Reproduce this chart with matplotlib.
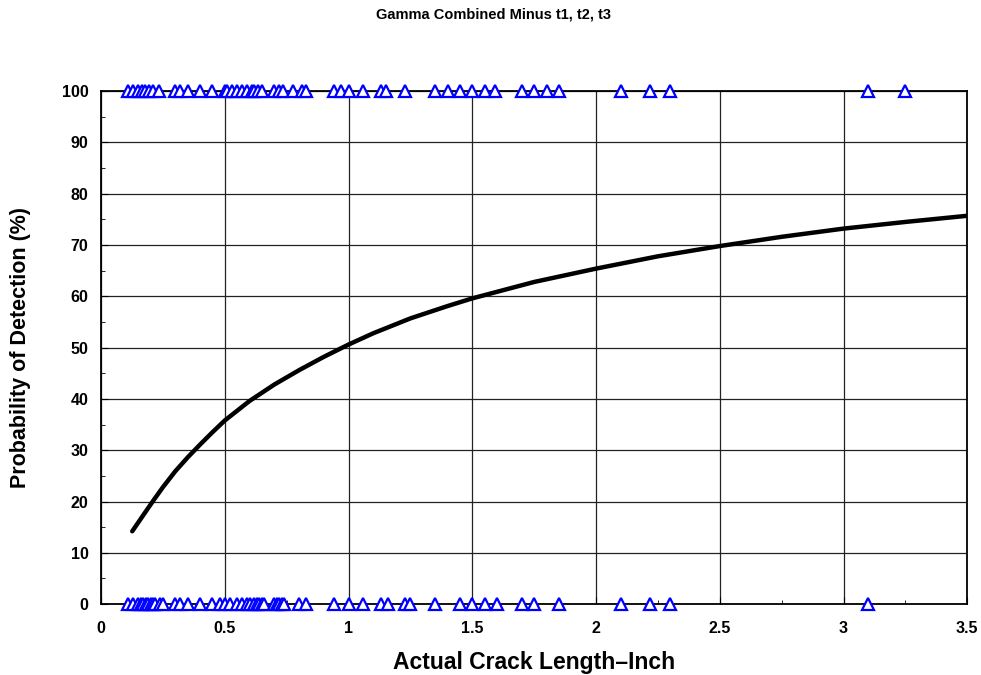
import matplotlib.pyplot as plt
from matplotlib.ticker import MultipleLocator

plt.rcParams['font.family'] = ['Liberation Sans', 'DejaVu Sans']
plt.rcParams['font.weight'] = 'bold'

# detected cracks (plotted at 100 %)
hit_lengths = [0.11, 0.13, 0.15, 0.165, 0.178, 0.195, 0.21, 0.235, 0.30, 0.32,
               0.35, 0.40, 0.45, 0.50, 0.51, 0.53, 0.55, 0.57, 0.59, 0.61,
               0.62, 0.635, 0.65, 0.70, 0.72, 0.735, 0.775, 0.81, 0.83,
               0.94, 0.97, 1.0, 1.06, 1.13, 1.15, 1.23, 1.35, 1.40, 1.45,
               1.50, 1.55, 1.59, 1.70, 1.75, 1.80, 1.85, 2.10, 2.22, 2.30,
               3.10, 3.25]
# missed cracks (plotted at 0 %)
miss_lengths = [0.11, 0.13, 0.15, 0.16, 0.17, 0.18, 0.19, 0.20, 0.21, 0.22,
                0.24, 0.25, 0.30, 0.32, 0.35, 0.40, 0.45, 0.48, 0.50, 0.52,
                0.55, 0.57, 0.59, 0.60, 0.62, 0.63, 0.64, 0.65, 0.66, 0.70,
                0.71, 0.72, 0.73, 0.74, 0.80, 0.83, 0.94, 1.0, 1.06, 1.13,
                1.16, 1.23, 1.25, 1.35, 1.45, 1.50, 1.55, 1.60, 1.70, 1.75,
                1.85, 2.10, 2.22, 2.30, 3.10]

# POD curve
curve_x = [0.126, 0.17, 0.21, 0.25, 0.3, 0.35, 0.4, 0.45, 0.5, 0.6, 0.7,
           0.8, 0.9, 1.0, 1.1, 1.25, 1.4, 1.5, 1.75, 2.0, 2.25, 2.5, 2.75,
           3.0, 3.25, 3.5]
curve_pod = [14.2, 17.3, 20.1, 22.8, 25.9, 28.6, 31.1, 33.5, 35.8, 39.6, 42.8,
             45.6, 48.2, 50.6, 52.8, 55.7, 58.1, 59.6, 62.8, 65.4, 67.8, 69.8,
             71.6, 73.2, 74.5, 75.7]

fig = plt.figure(figsize=(9.81, 6.75), dpi=100)
ax = fig.add_axes([0.103, 0.105, 0.883, 0.760])

ax.plot(curve_x, curve_pod, color='black', lw=3.2, solid_capstyle='round')
ax.plot(hit_lengths, [100] * len(hit_lengths), linestyle='none', marker='^',
        markersize=8.5, markerfacecolor='white', markeredgecolor='blue',
        markeredgewidth=1.6, clip_on=False, zorder=5)
ax.plot(miss_lengths, [0] * len(miss_lengths), linestyle='none', marker='^',
        markersize=8.5, markerfacecolor='white', markeredgecolor='blue',
        markeredgewidth=1.6, clip_on=False, zorder=5)

ax.set_xlim(0, 3.5)
ax.set_ylim(0, 100)
ax.set_xticks([0, 0.5, 1, 1.5, 2, 2.5, 3, 3.5])
ax.set_xticklabels(['0', '0.5', '1', '1.5', '2', '2.5', '3', '3.5'])
ax.xaxis.set_minor_locator(MultipleLocator(0.25))
ax.yaxis.set_major_locator(MultipleLocator(10))
ax.yaxis.set_minor_locator(MultipleLocator(5))
ax.tick_params(which='both', direction='in', labelsize=11.5)
ax.tick_params(which='major', length=5)
ax.tick_params(which='minor', length=3)
ax.tick_params(axis='x', pad=12)
ax.tick_params(axis='y', pad=9)
ax.grid(which='major', color='#222222', lw=0.9)
for s in ax.spines.values():
    s.set_linewidth(1.3)

ax.set_xlabel('Actual Crack Length\u2013Inch', fontsize=16.5, fontweight='bold', labelpad=11)
ax.set_ylabel('Probability of Detection (%)', fontsize=15.5, fontweight='bold', labelpad=22)
fig.text(0.503, 0.979, 'Gamma Combined Minus t1, t2, t3', fontsize=10.5,
         fontweight='bold', ha='center', va='center')

fig.savefig('out.png', dpi=100)
